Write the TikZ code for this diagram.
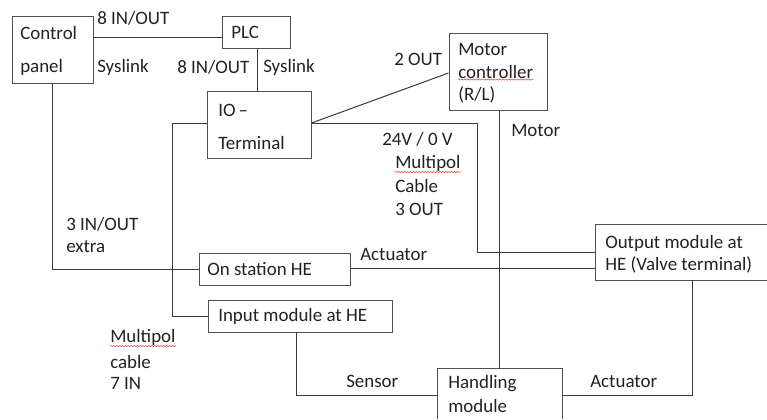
\documentclass[tikz,border=0pt]{standalone}
\usepackage{fontspec}
\setmainfont{Carlito}
\usetikzlibrary{fit,decorations.pathmorphing}
\definecolor{boxc}{HTML}{505050}
\definecolor{wirec}{HTML}{3A3A3A}
\definecolor{txtc}{HTML}{222222}
\begin{document}
\begin{tikzpicture}[x=0.75pt,y=-0.75pt,
  box/.style={draw=boxc, line width=0.75pt, inner sep=0pt},
  openbox/.style={inner sep=0pt},
  boxline/.style={draw=boxc, line width=0.75pt},
  wire/.style={draw=wirec, line width=0.75pt},
  lbl/.style={anchor=west, inner sep=0pt, text=txtc, font=\fontsize{14.2}{16}\selectfont},
  spell/.style={draw=red!75, line width=0.4pt, decorate, decoration={snake, amplitude=0.45pt, segment length=2.2pt}}]
\fill[white] (0,0) rectangle (767,419);
\useasboundingbox (0,0) rectangle (767,419);

% boxes
\node[box, fit={(12,16)(93,83)}] (cp) {};
\node[box, fit={(222,16)(290,48)}] (plc) {};
\node[box, fit={(207,91)(311,158)}] (io) {};
\node[box, fit={(449,33)(547,110)}] (mc) {};
\node[openbox, fit={(596,225)(767,280)}] (om) {};
\draw[boxline] (om.north east) -- (om.north west) -- (om.south west) -- (om.south east);
\node[box, fit={(199,253)(350,285)}] (os) {};
\node[box, fit={(208,300)(392,332)}] (im) {};
\node[openbox, fit={(438,369)(562,419)}] (hm) {};
\draw[boxline] (hm.south west) -- (hm.north west) -- (hm.north east) -- (hm.south east);

% box texts
\node[lbl] (cpt1) at (20,33) {Control};
\node[lbl] (cpt2) at (20,67) {panel};
\node[lbl] (plct) at (231,32) {PLC};
\node[lbl] (iot1) at (218,110) {IO\,–};
\node[lbl] (iot2) at (218,143) {Terminal};
\node[lbl] (mct1) at (458,49) {Motor};
\node[lbl] (mct2) at (458,72) {controller};
\node[lbl] (mct3) at (458,95) {(R/L)};
\node[lbl] (omt1) at (605,243) {Output module at};
\node[lbl] (omt2) at (605,265) {HE (Valve terminal)};
\node[lbl] (ost) at (207,269) {On station HE};
\node[lbl] (imt) at (218,316) {Input module at HE};
\node[lbl] (hmt1) at (448,384) {Handling};
\node[lbl] (hmt2) at (448,406) {module};

% connector labels
\node[lbl] (l8a) at (97,18) {8 IN/OUT};
\node[lbl] (lsa) at (97,67) {Syslink};
\node[lbl] (l8b) at (177,67) {8 IN/OUT};
\node[lbl] (lsb) at (263,67) {Syslink};
\node[lbl] (l2o) at (394,59) {2 OUT};
\node[lbl] (lmo) at (511,130) {Motor};
\node[lbl] (l24) at (382,139) {24V / 0 V};
\node[lbl] (lmp1) at (395,163) {Multipol};
\node[lbl] (lcb1) at (395,186) {Cable};
\node[lbl] (l3o) at (395,209) {3 OUT};
\node[lbl] (l3io) at (66,224) {3 IN/OUT};
\node[lbl] (lex) at (66,247) {extra};
\node[lbl] (lac1) at (360,254) {Actuator};
\node[lbl] (lmp2) at (110,337) {Multipol};
\node[lbl] (lcb2) at (110,362) {cable};
\node[lbl] (l7in) at (110,383) {7 IN};
\node[lbl] (lsen) at (346,381) {Sensor};
\node[lbl] (lac2) at (590,381) {Actuator};

% spell-check underlines
\draw[spell] ([yshift=-0.5pt]mct2.south west) -- ([yshift=-0.5pt]mct2.south east);
\draw[spell] ([yshift=-0.5pt]lmp1.south west) -- ([yshift=-0.5pt]lmp1.south east);
\draw[spell] ([yshift=-0.5pt]lmp2.south west) -- ([yshift=-0.5pt]lmp2.south east);

% connectors
\draw[wire] (cp.east |- 0,37) -- (plc.west |- 0,37);
\draw[wire] (plc.south -| 257,0) -- (io.north -| 257,0);
\draw[wire] (io.east |- 0,123) -- (mc.west |- 0,73);
\draw[wire] (io.east |- 0,123) -- (477,123) |- (om.west |- 0,252);
\draw[wire] (io.west |- 0,123) -- (172,123) |- (im.west);
\draw[wire] (mc.south -| 499,0) -- (hm.north -| 499,0);
\draw[wire] (cp.south -| 52,0) |- (os.west);
\draw[wire] (os.east |- 0,268) -- (om.west |- 0,268);
\draw[wire] (im.south -| 296,0) |- (hm.west |- 0,395);
\draw[wire] (hm.east |- 0,395) -| (om.south -| 692,0);
\end{tikzpicture}
\end{document}
